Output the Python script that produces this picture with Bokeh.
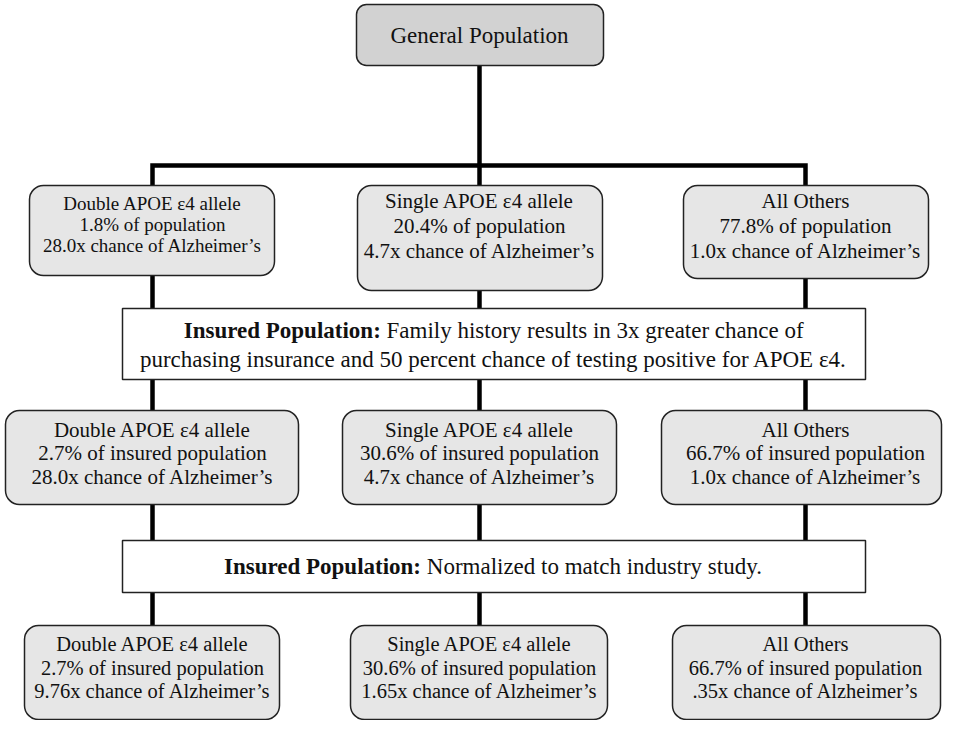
from bokeh.plotting import figure
from bokeh.models import Range1d
from bokeh.embed import file_html
from bokeh.resources import INLINE
from bokeh.core.properties import value

# ---------------- data ----------------
root_label = "General Population"
groups = ["Double APOE \u03b54 allele", "Single APOE \u03b54 allele", "All Others"]
pop_share = [1.8, 20.4, 77.8]            # % of general population
pop_risk = ["28.0x", "4.7x", "1.0x"]     # chance of Alzheimer's
insured_share = [2.7, 30.6, 66.7]        # % of insured population
insured_risk = ["28.0x", "4.7x", "1.0x"]
normalized_share = [2.7, 30.6, 66.7]
normalized_risk = ["9.76x", "1.65x", ".35x"]
step_head = "Insured Population:"
step1_text = ["Family history results in 3x greater chance of",
              "purchasing insurance and 50 percent chance of testing positive for APOE \u03b54."]
step2_text = "Normalized to match industry study."

# ---------------- helpers (Times metrics, for centring mixed bold/regular lines) ----------------
REG = {' ': 250, ':': 278, '.': 250, '0': 500, '3': 500, '4': 500, '5': 500, 'x': 500, 'a': 444, 'c': 444,
       'd': 500, 'e': 444, 'f': 333, 'g': 500, 'h': 500, 'i': 278, 'l': 278, 'm': 778, 'n': 500, 'o': 500,
       'p': 500, 'r': 333, 's': 389, 't': 278, 'u': 500, 'y': 500, 'z': 444, 'F': 556, 'N': 722}
BOLD = {' ': 250, ':': 333, 'I': 389, 'n': 556, 's': 389, 'u': 556, 'r': 444, 'e': 444, 'd': 556, 'P': 611,
        'o': 500, 'p': 556, 'l': 278, 'a': 500, 't': 333, 'i': 278}


def width(txt, table, fs):
    return sum(table.get(ch, 500) for ch in txt) * fs / 1000.0


FONT = value("Liberation Serif")
INK = "#111111"

p = figure(width=943, height=720, x_range=Range1d(8, 951), y_range=Range1d(728, 8),
           output_backend="svg", toolbar_location=None, min_border=0,
           x_axis_location=None, y_axis_location=None)
p.grid.visible = False
p.outline_line_color = None
p.background_fill_color = "white"
p.border_fill_color = "white"

cols = [160, 487, 813]

# ---------------- connectors ----------------
LW = 4.5
p.multi_line(xs=[[487, 487], [cols[0], cols[0], cols[2], cols[2]]],
             ys=[[73, 173], [193, 173, 173, 193]],
             line_color="black", line_width=LW, line_join="miter")
p.segment(x0=[cols[1]], y0=[173], x1=[cols[1]], y1=[193], line_color="black", line_width=LW)
for y0, y1 in [(283, 316), (387, 418), (512, 548), (600, 633)]:
    p.segment(x0=cols, y0=[y0] * 3, x1=cols, y1=[y1] * 3, line_color="black", line_width=LW)

# ---------------- boxes ----------------
BORDER = "#222222"
p.quad(left=[364], right=[611], top=[12], bottom=[73], fill_color="#d2d2d2",
       line_color=BORDER, line_width=1.5, border_radius=10)
p.quad(left=[37, 365, 691], right=[282, 610, 936], top=[193] * 3, bottom=[283, 298, 286],
       fill_color="#e6e6e6", line_color=BORDER, line_width=1.5, border_radius=14)
p.quad(left=[130], right=[873], top=[316], bottom=[387], fill_color="white",
       line_color=BORDER, line_width=1.5)
p.quad(left=[13, 350, 669], right=[306, 624, 949], top=[418] * 3, bottom=[512] * 3,
       fill_color="#e6e6e6", line_color=BORDER, line_width=1.5, border_radius=14)
p.quad(left=[130], right=[873], top=[548], bottom=[600], fill_color="white",
       line_color=BORDER, line_width=1.5)
p.quad(left=[32, 358, 680], right=[287, 615, 948], top=[633] * 3, bottom=[727] * 3,
       fill_color="#e6e6e6", line_color=BORDER, line_width=1.5, border_radius=14)


def label(x, y, txt, fs, bold=False, align="center"):
    p.text(x=[x], y=[y], text=[txt], text_font=FONT, text_font_size=f"{fs}px",
           text_font_style="bold" if bold else "normal", text_color=INK,
           text_align=align, text_baseline="middle")


label(487, 43, root_label, 23)

# tier 1: general population
tier1_rows = [[211, 232, 253], [208, 233, 258], [208, 233, 258]]
tier1_fs = [19, 21, 21]
for i, c in enumerate(cols):
    lines = [groups[i], f"{pop_share[i]:.1f}% of population",
             f"{pop_risk[i]} chance of Alzheimer\u2019s"]
    for y, t in zip(tier1_rows[i], lines):
        label(c, y, t, tier1_fs[i])

# step 1 box
FS = 23
CX = 501
bw = width(step_head, BOLD, FS)
sp = width(" ", REG, FS)
tot = bw + sp + width(step1_text[0], REG, FS)
split = CX - tot / 2 + bw
label(split, 338, step_head, FS, bold=True, align="right")
label(split + sp, 338, step1_text[0], FS, align="left")
label(CX, 367, step1_text[1], FS)

# tier 2: insured population
for i, c in enumerate(cols):
    lines = [groups[i], f"{insured_share[i]:.1f}% of insured population",
             f"{insured_risk[i]} chance of Alzheimer\u2019s"]
    for y, t in zip([437, 460, 484], lines):
        label(c, y, t, 21)

# step 2 box
tot2 = bw + sp + width(step2_text, REG, FS)
split2 = CX - tot2 / 2 + bw
label(split2, 574, step_head, FS, bold=True, align="right")
label(split2 + sp, 574, step2_text, FS, align="left")

# tier 3: normalized
for i, c in enumerate(cols):
    lines = [groups[i], f"{normalized_share[i]:.1f}% of insured population",
             f"{normalized_risk[i]} chance of Alzheimer\u2019s"]
    for y, t in zip([651, 675, 698], lines):
        label(c, y, t, 20.5)

open("out.html", "w").write(file_html(p, INLINE))
